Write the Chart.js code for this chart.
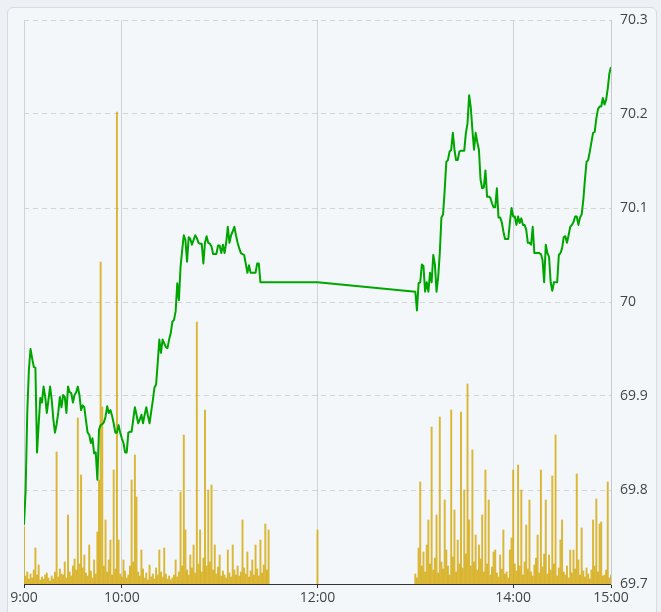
<!DOCTYPE html>
<html>
<head>
<meta charset="utf-8">
<script src="https://cdn.jsdelivr.net/npm/chart.js@4.4.1/dist/chart.umd.min.js"></script>
<style>
  html, body { margin: 0; padding: 0; background: #edf1f5; }
  body { width: 661px; height: 612px; position: relative; overflow: hidden; }
  .panel { position: absolute; left: 7px; top: 7px; width: 650px; height: 620px;
           background: #f4f7fa; border: 1px solid #d6dce2; border-radius: 6px; box-sizing: border-box; }
  canvas { position: absolute; left: 0; top: 0; }
</style>
</head>
<body>
<div class="panel"></div>
<canvas id="c" width="661" height="612"></canvas>
<script>
// Minutes since 9:00 used as the x value
const tickMinutes = [0, 60, 180, 300, 360];
const tickLabels = ["9:00", "10:00", "12:00", "14:00", "15:00"];
const priceTicks = [70.3, 70.2, 70.1, 70.0, 69.9, 69.8, 69.7];

// Morning session 9:00 - 11:30, one price per minute
const morningPrices = [
  69.763, 69.800, 69.882, 69.928, 69.950, 69.940, 69.931, 69.930, 69.840, 69.870,
  69.898, 69.893, 69.910, 69.899, 69.882, 69.896, 69.910, 69.896, 69.875, 69.861,
  69.870, 69.882, 69.899, 69.888, 69.901, 69.899, 69.882, 69.910, 69.904, 69.903,
  69.893, 69.901, 69.904, 69.910, 69.901, 69.885, 69.890, 69.888, 69.874, 69.861,
  69.859, 69.850, 69.855, 69.839, 69.840, 69.811, 69.864, 69.869, 69.870, 69.872,
  69.878, 69.889, 69.882, 69.885, 69.879, 69.871, 69.861, 69.861, 69.869, 69.861,
  69.855, 69.850, 69.840, 69.840, 69.861, 69.862, 69.862, 69.875, 69.888, 69.880,
  69.871, 69.875, 69.880, 69.871, 69.880, 69.888, 69.879, 69.871, 69.883, 69.895,
  69.909, 69.912, 69.935, 69.960, 69.946, 69.960, 69.956, 69.952, 69.951, 69.960,
  69.967, 69.979, 69.981, 69.990, 70.020, 70.002, 70.037, 70.055, 70.071, 70.066,
  70.043, 70.069, 70.067, 70.061, 70.066, 70.071, 70.068, 70.063, 70.062, 70.062,
  70.041, 70.063, 70.070, 70.063, 70.062, 70.059, 70.051, 70.051, 70.051, 70.060,
  70.060, 70.052, 70.061, 70.052, 70.063, 70.080, 70.063, 70.071, 70.075, 70.080,
  70.071, 70.063, 70.057, 70.052, 70.051, 70.050, 70.041, 70.031, 70.039, 70.031,
  70.031, 70.031, 70.031, 70.041, 70.041, 70.021, 70.021, 70.021, 70.021, 70.021,
  70.021
];
const noonMinute = 180;
const noonPrice = 70.021;
const afternoonStart = 240;
// Afternoon session 13:00 - 15:00, one price per minute
const afternoonPrices = [
  70.011, 69.991, 70.020, 70.021, 70.040, 70.038, 70.011, 70.021, 70.011, 70.031,
  70.021, 70.050, 70.040, 70.011, 70.026, 70.052, 70.090, 70.093, 70.119, 70.149,
  70.151, 70.160, 70.162, 70.180, 70.162, 70.151, 70.151, 70.160, 70.161, 70.161,
  70.161, 70.180, 70.190, 70.220, 70.207, 70.183, 70.162, 70.180, 70.170, 70.162,
  70.130, 70.121, 70.122, 70.140, 70.112, 70.112, 70.111, 70.105, 70.101, 70.101,
  70.121, 70.090, 70.090, 70.085, 70.075, 70.067, 70.067, 70.067, 70.085, 70.100,
  70.091, 70.091, 70.082, 70.091, 70.084, 70.089, 70.082, 70.082, 70.077, 70.063,
  70.063, 70.061, 70.080, 70.052, 70.052, 70.052, 70.052, 70.051, 70.045, 70.021,
  70.061, 70.052, 70.048, 70.021, 70.012, 70.021, 70.021, 70.021, 70.050, 70.052,
  70.057, 70.069, 70.070, 70.063, 70.071, 70.080, 70.082, 70.085, 70.091, 70.091,
  70.082, 70.090, 70.093, 70.108, 70.130, 70.149, 70.151, 70.160, 70.170, 70.180,
  70.181, 70.195, 70.205, 70.208, 70.208, 70.217, 70.210, 70.215, 70.227, 70.243,
  70.250
];

// Volumes (one bar per minute)
const morningVolumes = [
  57, 8, 12, 5, 10, 6, 14, 36, 9, 19,
  4, 7, 5, 9, 11, 6, 3, 8, 5, 12,
  132, 7, 15, 10, 9, 22, 6, 69, 12, 8,
  18, 25, 14, 166, 20, 109, 16, 29, 11, 8,
  39, 13, 6, 24, 10, 52, 104, 322, 177, 18,
  64, 12, 24, 44, 9, 114, 15, 472, 44, 10,
  7, 24, 13, 6, 9, 18, 104, 22, 129, 87,
  12, 8, 34, 15, 6, 11, 4, 19, 7, 10,
  5, 16, 9, 34, 12, 7, 36, 10, 5, 8,
  4, 6, 9, 24, 7, 12, 92, 18, 149, 54,
  14, 9, 29, 16, 39, 11, 262, 20, 54, 12,
  26, 174, 18, 94, 22, 99, 14, 39, 10, 17,
  29, 8, 13, 9, 6, 34, 11, 7, 39, 14,
  9, 18, 8, 12, 64, 16, 10, 32, 7, 13,
  24, 9, 39, 15, 8, 44, 11, 19, 60, 14,
  54
];
const noonVolume = 54;
const afternoonVolumes = [
  10, 6, 36, 102, 18, 32, 12, 39, 64, 20,
  157, 14, 26, 69, 11, 167, 22, 15, 84, 34,
  18, 9, 174, 27, 74, 12, 44, 20, 172, 16,
  94, 30, 200, 64, 18, 134, 22, 49, 14, 39,
  25, 69, 12, 114, 20, 84, 9, 17, 32, 34,
  11, 7, 29, 15, 54, 10, 12, 6, 34, 46,
  114, 20, 13, 119, 18, 94, 9, 22, 59, 15,
  84, 12, 8, 19, 26, 49, 11, 114, 17, 30,
  84, 10, 29, 14, 108, 20, 149, 8, 16, 44,
  64, 12, 9, 18, 6, 34, 11, 34, 15, 110,
  24, 9, 56, 13, 7, 16, 10, 5, 14, 64,
  18, 85, 12, 60, 62, 8, 9, 14, 102, 6,
  9
];
const VOL_MAX = 564;

const priceData = []
  .concat(morningPrices.map((v, i) => ({ x: i, y: v })))
  .concat([{ x: noonMinute, y: noonPrice }])
  .concat(afternoonPrices.map((v, i) => ({ x: afternoonStart + i, y: v })));
const volumeData = []
  .concat(morningVolumes.map((v, i) => ({ x: i, y: v })))
  .concat([{ x: noonMinute, y: noonVolume }])
  .concat(afternoonVolumes.map((v, i) => ({ x: afternoonStart + i, y: v })));

const FONT = { family: "'Open Sans', 'Noto Sans', sans-serif", size: 14 };

new Chart(document.getElementById('c'), {
  data: {
    datasets: [
      {
        type: 'line', data: priceData, yAxisID: 'y', xAxisID: 'x',
        borderColor: '#00a600', borderWidth: 2, pointRadius: 0, tension: 0,
        borderJoinStyle: 'round', fill: false
      },
      {
        type: 'bar', data: volumeData, yAxisID: 'yv', xAxisID: 'x',
        backgroundColor: 'rgba(214,172,20,0.85)', borderWidth: 0,
        barThickness: 1.3, grouped: false
      }
    ]
  },
  options: {
    responsive: false, animation: false,
    layout: { padding: { left: 24, top: 20, right: 0, bottom: 0 } },
    plugins: { legend: { display: false }, tooltip: { enabled: false } },
    scales: {
      x: {
        type: 'linear', min: 0, max: 360, offset: false,
        afterBuildTicks: (s) => { s.ticks = tickMinutes.map(v => ({ value: v })); },
        afterFit: (s) => { s.height = 28; },
        ticks: {
          autoSkip: false, maxRotation: 0, padding: 2, color: '#444', font: FONT,
          callback: (v) => tickLabels[tickMinutes.indexOf(v)]
        },
        grid: { offset: false, color: '#cfd3d7', lineWidth: 1, tickColor: '#333', tickLength: 4, drawOnChartArea: true },
        border: { display: true, color: '#333', width: 1 }
      },
      y: {
        type: 'linear', position: 'right', min: 69.7, max: 70.3,
        afterBuildTicks: (s) => { s.ticks = priceTicks.map(v => ({ value: v })); },
        afterFit: (s) => { s.width = 50; },
        ticks: {
          padding: 9, color: '#444', font: FONT,
          callback: (v) => String(Number(v.toFixed(1)))
        },
        grid: { color: '#d2d5d8', lineWidth: 1, drawTicks: false, tickLength: 0 },
        border: { display: true, color: '#c8cbce', dash: [5, 4], width: 1 }
      },
      yv: {
        type: 'linear', display: false, min: 0, max: VOL_MAX
      }
    }
  }
});
</script>
</body>
</html>
